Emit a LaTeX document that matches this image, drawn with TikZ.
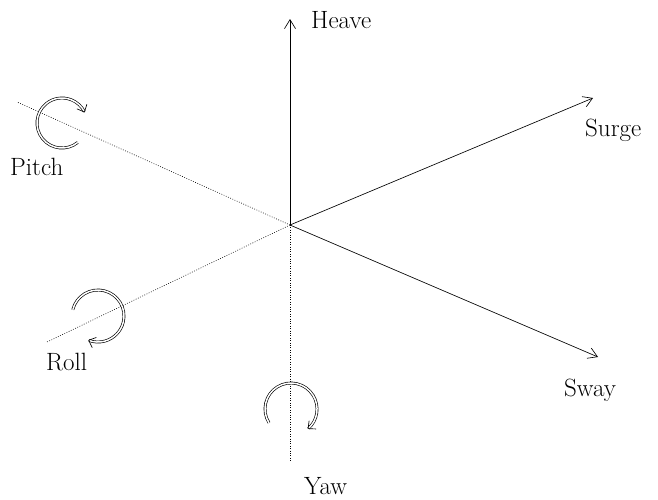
\documentclass[tikz,border=0pt]{standalone}
\usepackage{tikz}
\usetikzlibrary{arrows.meta}

\begin{document}
\begin{tikzpicture}[
  x=1pt, y=1pt,
  font=\fontsize{25}{28}\selectfont,
  axis/.style={line width=0.65pt, -{Straight Barb[length=9pt, width=11pt]}},
  hidden/.style={line width=0.6pt, dash pattern=on 0.8pt off 1.6pt},
  rotarrow/.style={double, double distance=1.5pt, line width=0.65pt,
                   -{Straight Barb[length=6pt, width=11pt]}},
  dof/.style={inner sep=0pt, anchor=base west},
]
\useasboundingbox (0,0) rectangle (658,-499);

% origin and axis ends
\coordinate (o)        at (290,-225);
\coordinate (heavetip) at (290,-19);
\coordinate (surgetip) at (593,-98);
\coordinate (swaytip)  at (598,-357);
\coordinate (pitchend) at (17,-102);
\coordinate (rollend)  at (47,-342);
\coordinate (yawend)   at (290,-461);

% translational axes
\draw[axis] (o) -- (heavetip);
\draw[axis] (o) -- (surgetip);
\draw[axis] (o) -- (swaytip);

% rotation axes (dotted)
\draw[hidden] (o) -- (pitchend);
\draw[hidden] (o) -- (rollend);
\draw[hidden] (o) -- (yawend);

% rotation arrows
\draw[rotarrow] (62,-123) ++(-51:25) arc (-51:-335:25);
\draw[rotarrow] (98,-316) ++(166:26) arc (166:-112:26);
\draw[rotarrow] (291,-409) ++(212:26) arc (212:-50:26);

% labels
\node[dof] (heave) at (311,-28)  {Heave};
\node[dof] (surge) at (585,-136) {Surge};
\node[dof] (sway)  at (564,-396) {Sway};
\node[dof] (pitch) at (10,-175)  {Pitch};
\node[dof] (roll)  at (46,-370)  {Roll};
\node[dof] (yaw)   at (304,-494) {Yaw};
\end{tikzpicture}
\end{document}
